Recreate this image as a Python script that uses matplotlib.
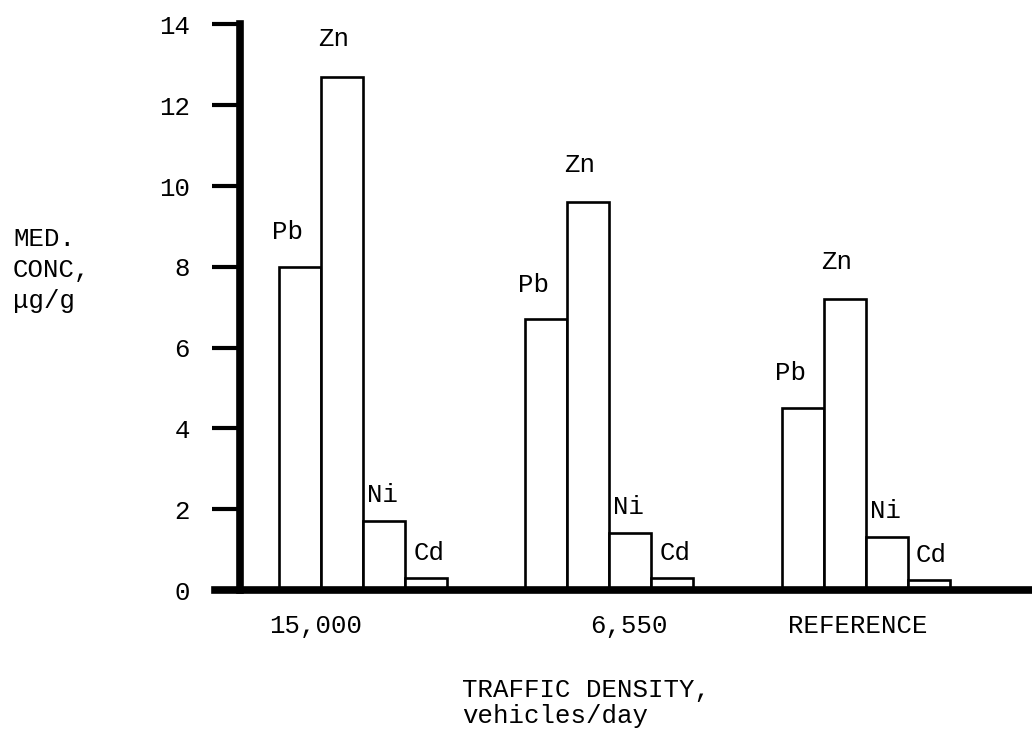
import matplotlib
matplotlib.use("Agg")
import matplotlib.pyplot as plt
import numpy as np

# typewriter look
plt.rcParams['font.family'] = ['Liberation Mono', 'DejaVu Sans Mono']

# *****  Data  *****
metals = ["Pb", "Zn", "Ni", "Cd"]
densities = ["15,000", "6,550", "REFERENCE"]
pb_conc = [8.0, 6.7, 4.5]
zn_conc = [12.7, 9.6, 7.2]
ni_conc = [1.7, 1.4, 1.3]
cd_conc = [0.3, 0.3, 0.25]
y_ticks = [0, 2, 4, 6, 8, 10, 12, 14]

# *****  Layout (x units = one bar width)  *****
group_left = [0.93, 6.79, 12.9]
density_label_x = [1.79, 9.26, 14.71]
x_max = 792 / 42
# label offsets above each bar top, in points
label_offsets = {"Pb": (-9, 25), "Zn": (-6, 27), "Ni": (-1, 19), "Cd": (2, 18)}
font_size = 18.5

fig = plt.figure(figsize=(10.32, 7.4), dpi=100)
ax = fig.add_axes([240 / 1032, 150 / 740, 792 / 1032, 565.6 / 740])

for i, (metal, conc) in enumerate(zip(metals, [pb_conc, zn_conc, ni_conc, cd_conc])):
    x = np.array(group_left) + i + 0.5
    ax.bar(x, conc, width=1.0, color="white", edgecolor="black",
           linewidth=1.9, zorder=2)
    dx, dy = label_offsets[metal]
    for xi, v in zip(x, conc):
        ax.annotate(metal, (xi, v), xytext=(dx, dy), textcoords="offset points",
                    ha="center", va="center", fontsize=font_size)

ax.set_xlim(0, x_max)
ax.set_ylim(0, 14)

for side in ["top", "right"]:
    ax.spines[side].set_visible(False)
ax.spines["left"].set_linewidth(5.5)
ax.spines["bottom"].set_linewidth(5.5)
ax.spines["bottom"].set_bounds(-25 / 42, x_max)

ax.set_yticks(y_ticks)
ax.set_yticklabels([str(t) for t in y_ticks])
ax.tick_params(axis="y", length=20, width=3, pad=16, labelsize=font_size)

ax.set_xticks(density_label_x)
ax.set_xticklabels(densities)
ax.tick_params(axis="x", length=0, pad=17, labelsize=font_size)

fig.text(13 / 1032, 1 - 270 / 740, "MED.\nCONC,\nμg/g", ha="left", va="center",
         fontsize=font_size, linespacing=1.35)
fig.text(462 / 1032, 1 - 703 / 740, "TRAFFIC DENSITY,\nvehicles/day", ha="left",
         va="center", fontsize=font_size, linespacing=1.12)

fig.savefig("out.png", dpi=100)
